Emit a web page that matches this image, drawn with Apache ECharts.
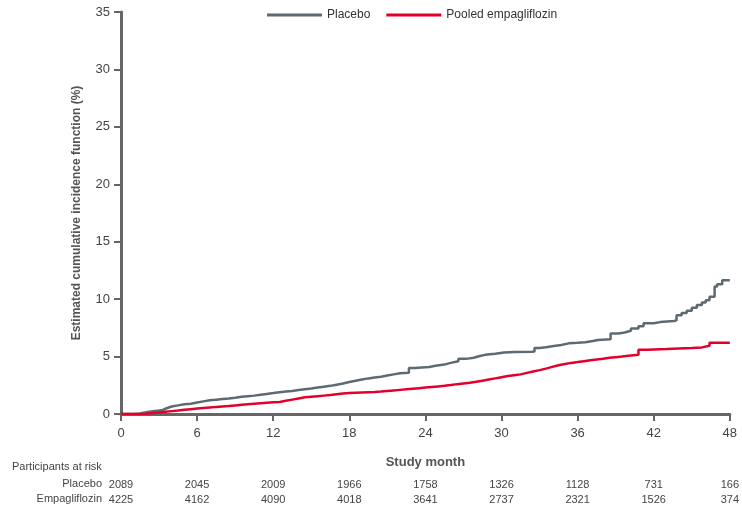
<!DOCTYPE html>
<html>
<head>
<meta charset="utf-8">
<script src="https://cdn.jsdelivr.net/npm/echarts@6/dist/echarts.min.js"></script>
<style>html,body{margin:0;padding:0;background:#fff}#c{width:742px;height:509px}</style>
</head>
<body>
<div id="c"></div>
<script>
const monthTicks = [0, 6, 12, 18, 24, 30, 36, 42, 48];
const placeboRisk = [2089, 2045, 2009, 1966, 1758, 1326, 1128, 731, 166];
const empaRisk = [4225, 4162, 4090, 4018, 3641, 2737, 2321, 1526, 374];

const placeboMonths = [0,1,1.5,2,2.5,3,3.3,3.6,4,4.5,5,5.5,6,6.5,7,7.5,8,8.5,9,9.5,10,10.5,11,11.5,12,12.5,13,13.5,14,14.5,15,15.5,16,16.5,17,17.5,18,18.5,19,19.5,20,20.5,21,21.5,22,22.7,23.2,23.7,24.3,24.8,25.5,26,26.6,27.2,27.8,28.3,28.7,29.5,30.2,31,32.4,32.6,33,33.5,34,34.7,35.3,36,36.6,37.2,37.6,38.6,39.2,39.7,40.2,40.8,41.2,42,42.5,43.6,43.8,44.2,44.6,45,45.4,45.8,46.1,46.4,46.8,47,47.4,48];
const placeboCIF = [0,0.05,0.15,0.25,0.3,0.35,0.5,0.65,0.75,0.85,0.9,1.0,1.1,1.2,1.25,1.3,1.35,1.42,1.5,1.55,1.6,1.68,1.75,1.82,1.9,1.95,2.0,2.08,2.15,2.22,2.3,2.38,2.45,2.55,2.65,2.78,2.9,3.0,3.1,3.18,3.25,3.35,3.45,3.55,3.6,4.0,4.05,4.1,4.2,4.3,4.45,4.6,4.8,4.9,5.05,5.15,5.25,5.35,5.4,5.42,5.45,5.75,5.82,5.9,6.0,6.15,6.2,6.25,6.35,6.45,6.5,7.0,7.1,7.25,7.45,7.65,7.9,8.0,8.1,8.15,8.6,8.8,9.0,9.25,9.5,9.7,9.9,10.2,11.1,11.3,11.65,11.65];

const empaMonths = [0,1.3,2,2.5,3,3.5,4,4.5,5,5.5,6,6.5,7,7.5,8,8.5,9,9.5,10,10.5,11,11.5,12,12.5,13,13.5,14,14.5,15,15.5,16,16.5,17,17.5,18,18.5,19,19.5,20,20.5,21,21.5,22,22.5,23,23.5,24,24.5,25,25.5,26,26.5,27,27.5,28,28.5,29,29.5,30,30.5,31,31.5,32,32.5,33,33.5,34,34.5,35,35.5,36,36.5,37,37.5,38,38.5,39,39.5,40,40.8,41.5,42,43,44,45,45.8,46.4,48];
const empaCIF = [0,0.02,0.08,0.14,0.2,0.25,0.3,0.36,0.42,0.47,0.52,0.57,0.62,0.66,0.7,0.75,0.8,0.85,0.9,0.94,0.98,1.02,1.05,1.15,1.25,1.35,1.45,1.5,1.55,1.6,1.65,1.72,1.78,1.82,1.85,1.88,1.9,1.92,1.95,2.0,2.05,2.1,2.15,2.2,2.25,2.3,2.35,2.4,2.45,2.52,2.6,2.66,2.72,2.8,2.9,3.0,3.1,3.2,3.3,3.38,3.45,3.58,3.7,3.82,3.95,4.1,4.25,4.35,4.45,4.52,4.6,4.68,4.75,4.82,4.9,4.95,5.0,5.08,5.15,5.6,5.62,5.65,5.7,5.75,5.8,5.95,6.2,6.2];

const placeboData = placeboMonths.map((m, i) => [m, placeboCIF[i]]);
const empaData = empaMonths.map((m, i) => [m, empaCIF[i]]);

const narrow = '"Liberation Sans Narrow", "Liberation Sans", Arial, sans-serif';
const sans = '"Liberation Sans", Arial, sans-serif';
const axisColor = '#666';

function riskAxis(arr, offset) {
  return {
    type: 'value', min: 0, max: 48, interval: 6, position: 'bottom', offset: offset,
    axisLine: {show: false}, axisTick: {show: false}, splitLine: {show: false},
    axisLabel: {
      fontFamily: narrow, fontSize: 11, color: '#444', margin: 0,
      formatter: v => { const i = monthTicks.indexOf(v); return i >= 0 ? String(arr[i]) : ''; }
    }
  };
}

const chart = echarts.init(document.getElementById('c'));
chart.setOption({
  animation: false,
  backgroundColor: '#fff',
  grid: {left: 121, right: 9, top: 12, bottom: 95, containLabel: false},
  legend: {
    top: 9, left: 267, padding: 0, itemWidth: 55, itemHeight: 3, itemGap: 16, icon: 'rect',
    textStyle: {fontFamily: sans, fontSize: 12, color: '#333'},
    data: ['Placebo', 'Pooled empagliflozin']
  },
  xAxis: [
    {
      type: 'value', min: 0, max: 48, interval: 6,
      name: 'Study month', nameLocation: 'middle', nameGap: 42,
      nameTextStyle: {fontFamily: sans, fontSize: 13, fontWeight: 'bold', color: '#555'},
      axisLine: {lineStyle: {color: axisColor, width: 3}},
      axisTick: {length: 7, lineStyle: {color: axisColor, width: 2}},
      axisLabel: {fontFamily: narrow, fontSize: 13, color: '#444', margin: 13},
      splitLine: {show: false}
    },
    riskAxis(placeboRisk, 65),
    riskAxis(empaRisk, 80)
  ],
  yAxis: {
    type: 'value', min: 0, max: 35, interval: 5,
    name: 'Estimated cumulative incidence function (%)', nameLocation: 'middle', nameGap: 38, nameRotate: 90,
    nameTextStyle: {fontFamily: sans, fontSize: 12, fontWeight: 'bold', color: '#555'},
    axisLine: {show: true, lineStyle: {color: axisColor, width: 3}},
    axisTick: {show: true, length: 7, lineStyle: {color: axisColor, width: 2}},
    axisLabel: {fontFamily: narrow, fontSize: 13, color: '#444', margin: 11},
    splitLine: {show: false}
  },
  series: [
    {
      name: 'Placebo', type: 'line', step: 'end', data: placeboData, xAxisIndex: 0,
      showSymbol: false, symbol: 'none', z: 3,
      lineStyle: {color: '#5e6a72', width: 2.5}, itemStyle: {color: '#5e6a72'}
    },
    {
      name: 'Pooled empagliflozin', type: 'line', step: 'end', data: empaData, xAxisIndex: 0,
      showSymbol: false, symbol: 'none', z: 4,
      lineStyle: {color: '#e3002b', width: 2.5}, itemStyle: {color: '#e3002b'}
    }
  ],
  graphic: [
    {type: 'text', left: 12, top: 461, style: {text: 'Participants at risk', fontFamily: narrow, fontSize: 11, fill: '#444'}},
    {type: 'text', right: 640, top: 478, style: {text: 'Placebo', fontFamily: narrow, fontSize: 11, fill: '#444', align: 'right'}},
    {type: 'text', right: 640, top: 493, style: {text: 'Empagliflozin', fontFamily: narrow, fontSize: 11, fill: '#444', align: 'right'}}
  ]
});
</script>
</body>
</html>
